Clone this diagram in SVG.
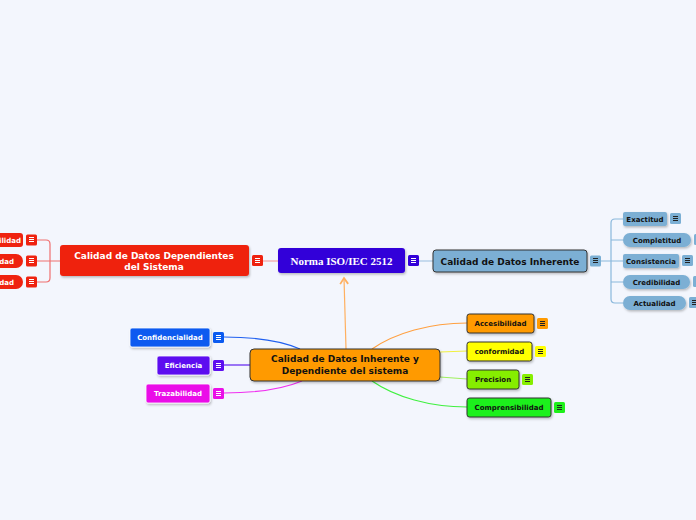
<svg xmlns="http://www.w3.org/2000/svg" width="696" height="520" viewBox="0 0 696 520">
<defs>
<filter id="sh" x="-20%" y="-30%" width="140%" height="170%"><feDropShadow dx="1" dy="1.5" stdDeviation="1" flood-color="#000" flood-opacity="0.25"/></filter>
<marker id="arr" viewBox="0 0 10 10" refX="8" refY="5" markerWidth="10" markerHeight="10" markerUnits="userSpaceOnUse" orient="auto"><path d="M2,1 L8,5 L2,9" fill="none" stroke="#ffb060" stroke-width="1.8"/></marker>
</defs>
<style>
.t{font-family:"DejaVu Sans",Verdana,sans-serif;font-weight:bold;text-anchor:middle}
.w{fill:#fff}
.k{fill:#111}
.s9{font-size:9px}
.s7{font-size:7px}
.ic line{stroke-width:1}
.iw line{stroke:#fff}
.ik line{stroke:#222}
.c{fill:none;stroke-width:1.2}
.dk{stroke:#333;stroke-width:1}
</style>
<rect width="696" height="520" fill="#f3f6fd"/>
<g id="connectors">
<path class="c" d="M263,261 H278" stroke="#f4a4a4"/>
<path class="c" d="M419,261 H433" stroke="#a8c8e4"/>
<path class="c" d="M601,261 H623 M623,219 H615 Q611,219 611,223 V299 Q611,303 615,303 H623 M611,240 H623 M611,282 H623" stroke="#8ab8dc"/>
<path class="c" d="M60,261 H37 M37,240 H46 Q50,240 50,244 V278 Q50,282 46,282 H37" stroke="#f07070"/>
<path class="c" d="M346,349 L344,278" stroke="#ffb060" stroke-width="1.8" marker-end="url(#arr)"/>
<path class="c" d="M224,337 C260,337 282,341 300,349" stroke="#2060f0"/>
<path class="c" d="M224,365 H250" stroke="#6020f0"/>
<path class="c" d="M224,393 C260,393 285,388 302,381" stroke="#f030f0"/>
<path class="c" d="M372,349 C395,333 430,323 467,323" stroke="#ffa040"/>
<path class="c" d="M440,352 L467,351" stroke="#f0f040"/>
<path class="c" d="M440,377 L467,379" stroke="#a0f060"/>
<path class="c" d="M372,381 C395,397 430,407 467,407" stroke="#40f040"/>
</g>
<g id="norma">
<rect x="278" y="248" width="127" height="25" rx="3" fill="#3300d9" filter="url(#sh)"/>
<text x="341.5" y="265" style="font-family:'Liberation Serif',Georgia,serif;font-weight:bold;font-size:11px;text-anchor:middle" fill="#fff">Norma ISO/IEC 2512</text>
<g class="ic iw"><rect x="408" y="255" width="11" height="11" rx="1.5" fill="#3300d9"/><line x1="411" y1="258.5" x2="416" y2="258.5"/><line x1="411" y1="260.5" x2="416" y2="260.5"/><line x1="411" y1="262.5" x2="416" y2="262.5"/></g>
</g>
<g id="dependientes">
<rect x="60" y="245" width="189" height="31" rx="3" fill="#ef220f" filter="url(#sh)"/>
<text class="t w s9" x="154" y="258.5">Calidad de Datos Dependientes</text>
<text class="t w s9" x="154" y="270">del Sistema</text>
<g class="ic iw"><rect x="252" y="255" width="11" height="11" rx="1.5" fill="#ef220f"/><line x1="255" y1="258.5" x2="260" y2="258.5"/><line x1="255" y1="260.5" x2="260" y2="260.5"/><line x1="255" y1="262.5" x2="260" y2="262.5"/></g>
</g>
<g id="dep1">
<rect x="-10" y="233" width="33" height="14" rx="3" fill="#ef220f"/>
<text class="t w s7" x="21" y="242.5" style="text-anchor:end">ilidad</text>
<g class="ic iw"><rect x="26" y="234.5" width="11" height="11" rx="1.5" fill="#ef220f"/><line x1="29" y1="237.5" x2="34" y2="237.5"/><line x1="29" y1="239.5" x2="34" y2="239.5"/><line x1="29" y1="241.5" x2="34" y2="241.5"/></g>
</g>
<g id="dep2">
<rect x="-10" y="254" width="33" height="14" rx="7" fill="#ef220f"/>
<text class="t w s7" x="14" y="263.5" style="text-anchor:end">dad</text>
<g class="ic iw"><rect x="26" y="255.5" width="11" height="11" rx="1.5" fill="#ef220f"/><line x1="29" y1="258.5" x2="34" y2="258.5"/><line x1="29" y1="260.5" x2="34" y2="260.5"/><line x1="29" y1="262.5" x2="34" y2="262.5"/></g>
</g>
<g id="dep3">
<rect x="-10" y="275" width="33" height="14" rx="7" fill="#ef220f"/>
<text class="t w s7" x="14" y="284.5" style="text-anchor:end">dad</text>
<g class="ic iw"><rect x="26" y="276.5" width="11" height="11" rx="1.5" fill="#ef220f"/><line x1="29" y1="279.5" x2="34" y2="279.5"/><line x1="29" y1="281.5" x2="34" y2="281.5"/><line x1="29" y1="283.5" x2="34" y2="283.5"/></g>
</g>
<g id="inherente">
<rect x="433" y="250" width="154" height="22" rx="3" fill="#7bafd4" class="dk" filter="url(#sh)"/>
<text class="t k s9" x="510" y="264.5">Calidad de Datos Inherente</text>
<g class="ic ik"><rect x="590" y="255.5" width="11" height="11" rx="1.5" fill="#7bafd4"/><line x1="593" y1="258.5" x2="598" y2="258.5"/><line x1="593" y1="260.5" x2="598" y2="260.5"/><line x1="593" y1="262.5" x2="598" y2="262.5"/></g>
</g>
<g id="exactitud">
<rect x="623" y="212" width="44" height="14" rx="2" fill="#7bafd4" filter="url(#sh)"/>
<text class="t k s7" x="645" y="221.5">Exactitud</text>
<g class="ic ik"><rect x="670" y="213" width="11" height="11" rx="1.5" fill="#7bafd4"/><line x1="673" y1="216.5" x2="678" y2="216.5"/><line x1="673" y1="218.5" x2="678" y2="218.5"/><line x1="673" y1="220.5" x2="678" y2="220.5"/></g>
</g>
<g id="completitud">
<rect x="623" y="233" width="68" height="14" rx="7" fill="#7bafd4" filter="url(#sh)"/>
<text class="t k s7" x="657" y="242.5">Completitud</text>
<g class="ic ik"><rect x="694" y="234" width="11" height="11" rx="1.5" fill="#7bafd4"/></g>
</g>
<g id="consistencia">
<rect x="623" y="254" width="56" height="14" rx="2" fill="#7bafd4" filter="url(#sh)"/>
<text class="t k s7" x="651" y="263.5">Consistencia</text>
<g class="ic ik"><rect x="682" y="255" width="11" height="11" rx="1.5" fill="#7bafd4"/><line x1="685" y1="258.5" x2="690" y2="258.5"/><line x1="685" y1="260.5" x2="690" y2="260.5"/><line x1="685" y1="262.5" x2="690" y2="262.5"/></g>
</g>
<g id="credibilidad">
<rect x="623" y="275" width="67" height="14" rx="7" fill="#7bafd4" filter="url(#sh)"/>
<text class="t k s7" x="656.5" y="284.5">Credibilidad</text>
<g class="ic ik"><rect x="693" y="276" width="11" height="11" rx="1.5" fill="#7bafd4"/></g>
</g>
<g id="actualidad">
<rect x="623" y="296" width="63" height="14" rx="7" fill="#7bafd4" filter="url(#sh)"/>
<text class="t k s7" x="654.5" y="305.5">Actualidad</text>
<g class="ic ik"><rect x="689" y="297" width="11" height="11" rx="1.5" fill="#7bafd4"/><line x1="692" y1="300.5" x2="697" y2="300.5"/><line x1="692" y1="302.5" x2="697" y2="302.5"/><line x1="692" y1="304.5" x2="697" y2="304.5"/></g>
</g>
<g id="centro">
<rect x="250" y="349" width="190" height="32" rx="4" fill="#ff9a00" class="dk" filter="url(#sh)"/>
<text class="t k s9" x="345" y="362">Calidad de Datos Inherente y</text>
<text class="t k s9" x="345" y="374">Dependiente del sistema</text>
</g>
<g id="confidencialidad">
<rect x="130" y="328" width="80" height="19" rx="2" fill="#0a5af0" stroke="#fff" stroke-width="0.8" filter="url(#sh)"/>
<text class="t w s7" x="170" y="340">Confidencialidad</text>
<g class="ic iw"><rect x="213" y="332" width="11" height="11" rx="1.5" fill="#0a5af0"/><line x1="216" y1="335.5" x2="221" y2="335.5"/><line x1="216" y1="337.5" x2="221" y2="337.5"/><line x1="216" y1="339.5" x2="221" y2="339.5"/></g>
</g>
<g id="eficiencia">
<rect x="157" y="356" width="53" height="19" rx="2" fill="#5d0ef0" stroke="#fff" stroke-width="0.8" filter="url(#sh)"/>
<text class="t w s7" x="183.5" y="368">Eficiencia</text>
<g class="ic iw"><rect x="213" y="360" width="11" height="11" rx="1.5" fill="#5d0ef0"/><line x1="216" y1="363.5" x2="221" y2="363.5"/><line x1="216" y1="365.5" x2="221" y2="365.5"/><line x1="216" y1="367.5" x2="221" y2="367.5"/></g>
</g>
<g id="trazabilidad">
<rect x="146" y="384" width="64" height="19" rx="2" fill="#ea10e8" stroke="#fff" stroke-width="0.8" filter="url(#sh)"/>
<text class="t w s7" x="178" y="396">Trazabilidad</text>
<g class="ic iw"><rect x="213" y="388" width="11" height="11" rx="1.5" fill="#ea10e8"/><line x1="216" y1="391.5" x2="221" y2="391.5"/><line x1="216" y1="393.5" x2="221" y2="393.5"/><line x1="216" y1="395.5" x2="221" y2="395.5"/></g>
</g>
<g id="accesibilidad">
<rect x="467" y="314" width="67" height="19" rx="2.5" fill="#ff9a00" class="dk" filter="url(#sh)"/>
<text class="t k s7" x="500.5" y="326">Accesibilidad</text>
<g class="ic ik"><rect x="537" y="318" width="11" height="11" rx="1.5" fill="#ff9a00"/><line x1="540" y1="321.5" x2="545" y2="321.5"/><line x1="540" y1="323.5" x2="545" y2="323.5"/><line x1="540" y1="325.5" x2="545" y2="325.5"/></g>
</g>
<g id="conformidad">
<rect x="467" y="342" width="65" height="19" rx="2.5" fill="#ffff00" class="dk" filter="url(#sh)"/>
<text class="t k s7" x="499.5" y="354">conformidad</text>
<g class="ic ik"><rect x="535" y="346" width="11" height="11" rx="1.5" fill="#ffff00"/><line x1="538" y1="349.5" x2="543" y2="349.5"/><line x1="538" y1="351.5" x2="543" y2="351.5"/><line x1="538" y1="353.5" x2="543" y2="353.5"/></g>
</g>
<g id="precision">
<rect x="467" y="370" width="52" height="19" rx="2.5" fill="#86ee00" class="dk" filter="url(#sh)"/>
<text class="t k s7" x="493" y="382">Precision</text>
<g class="ic ik"><rect x="522" y="374" width="11" height="11" rx="1.5" fill="#86ee00"/><line x1="525" y1="377.5" x2="530" y2="377.5"/><line x1="525" y1="379.5" x2="530" y2="379.5"/><line x1="525" y1="381.5" x2="530" y2="381.5"/></g>
</g>
<g id="comprensibilidad">
<rect x="467" y="398" width="84" height="19" rx="2.5" fill="#1ef01a" class="dk" filter="url(#sh)"/>
<text class="t k s7" x="509" y="410">Comprensibilidad</text>
<g class="ic ik"><rect x="554" y="402" width="11" height="11" rx="1.5" fill="#1ef01a"/><line x1="557" y1="405.5" x2="562" y2="405.5"/><line x1="557" y1="407.5" x2="562" y2="407.5"/><line x1="557" y1="409.5" x2="562" y2="409.5"/></g>
</g>
</svg>
